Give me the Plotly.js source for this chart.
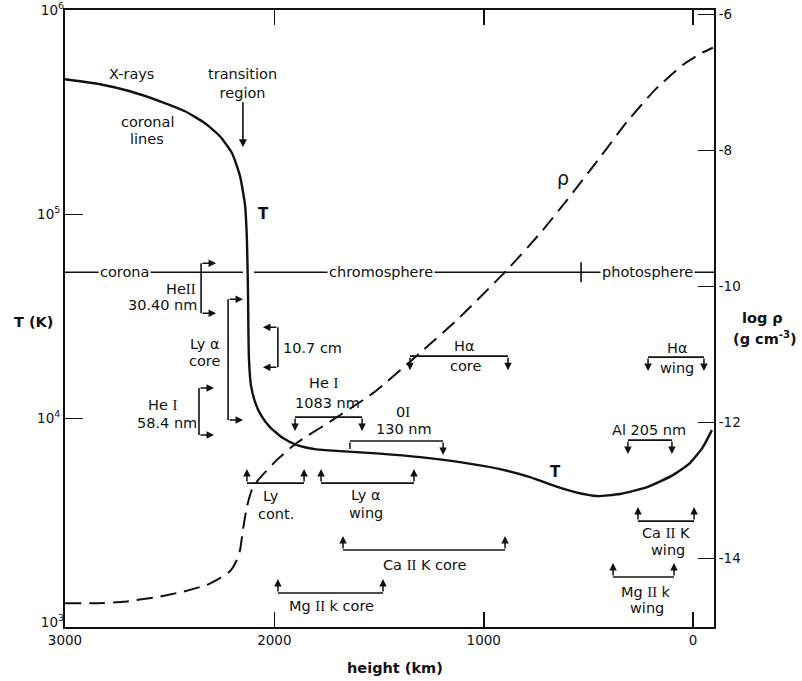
<!DOCTYPE html>
<html>
<head>
<meta charset="utf-8">
<script src="https://cdn.plot.ly/plotly-3.0.1.min.js"></script>
<style>html,body{margin:0;padding:0;background:#fff;}#chart{width:802px;height:681px;}</style>
</head>
<body>
<div id="chart"></div>
<script>
// ---- Temperature curve (height in km, T in K) ----
const heightT = [3000, 2833, 2690, 2546, 2427, 2331, 2260, 2202, 2164, 2140, 2131, 2126, 2124, 2121, 2112, 2092, 2064, 2021, 1959, 1892, 1806, 1686, 1495, 1304, 1113, 922, 779, 659, 564, 459, 349, 220, 96, 15, -47, -90];
const tempT   = [459000, 434000, 401000, 358200, 320000, 279500, 241300, 199300, 153800, 110800, 74670, 42470, 27050, 19280, 14540, 12000, 10370, 9057, 8000, 7390, 7063, 6907, 6714, 6455, 6101, 5638, 5151, 4654, 4349, 4158, 4253, 4601, 5268, 6034, 7226, 8752];

// ---- Density curve (height in km, log rho in g cm^-3) ----
const heightRho = [3000, 2847, 2723, 2561, 2436, 2322, 2260, 2212, 2183, 2164, 2150, 2131, 2107, 2078, 2040, 1987, 1892, 1734, 1529, 1304, 1113, 889, 731, 602, 444, 316, 182, 48, -33, -95];
const logRho    = [-14.66, -14.66, -14.64, -14.57, -14.49, -14.39, -14.29, -14.19, -14.05, -13.88, -13.58, -13.24, -12.99, -12.85, -12.72, -12.55, -12.30, -11.99, -11.57, -10.98, -10.45, -9.76, -9.22, -8.73, -8.10, -7.58, -7.11, -6.74, -6.58, -6.49];

// ---- Axis ticks ----
const xTickVals = [3000, 2000, 1000, 0];
const xTickText = ['3000', '2000', '1000', '0'];
const yTickVals = [1e4, 1e5];
const yTickText = ['10<sup>4</sup>', '10<sup>5</sup>'];
const yEndVals = [1e3, 1e6];
const yEndText = ['10<sup>3</sup>', '10<sup>6</sup>'];
const y2TickVals = [-14, -12, -10, -8, -6];
const y2TickText = ['-14', '-12', '-10', '-8', '-6'];

// ---- Horizontal formation-range brackets (height range, T level) ----
const hbName  = ['He I 1083 nm', 'O I 130 nm', 'Ha core', 'Ha wing', 'Al 205 nm', 'Ly cont.', 'Lya wing', 'Ca II K core', 'Mg II k core', 'Ca II K wing', 'Mg II k wing'];
const hbStart = [1901, 1639, 1352, 215, 311, 2131, 1777, 1672, 1983, 263, 382];
const hbEnd   = [1581, 1194, 884, -52, 101, 1858, 1333, 898, 1481, -5, 91];
const hbTemp  = [10140, 7735, 20170, 19950, 7820, 4813, 4813, 2261, 1392, 3135, 1667];
const hbDir   = ['down', 'down', 'down', 'down', 'down', 'up', 'up', 'up', 'up', 'up', 'up'];
const hbStartHead = [true, false, true, true, true, true, true, true, true, true, true];

// ---- Vertical brackets (height, T range) ----
const vbName   = ['He II 30.40 nm', 'Lya core', 'He I 58.4 nm', '10.7 cm'];
const vbHeight = [2350, 2221, 2360, 1983];
const vbTop    = [57600, 38370, 14060, 27980];
const vbBottom = [32770, 9800, 8275, 17810];
const vbDir    = ['right', 'right', 'right', 'left'];

// ---- Atmosphere regions ----
const regionTemp = 52030;
const regionLineX = [3000, 2150, null, 2097, -100];
const regionBoundary = 535;
const regionTickT = [58200, 46480];

// ---- Text labels ----
const R = s => '<span style="font-family:Liberation Serif">' + s + '</span>';
const labelText = ['X-rays', 'coronal', 'lines', 'He' + R('II'), '30.40 nm', 'Ly α', 'core', 'He ' + R('I'), '58.4 nm', '10.7 cm',
  'He ' + R('I'), '1083 nm', '0' + R('I'), '130 nm', 'Hα', 'core', 'Hα', 'wing', 'Al 205 nm',
  'Ly', 'cont.', 'Ly α', 'wing', 'Ca ' + R('II') + ' K core', 'Mg ' + R('II') + ' k core', 'Ca ' + R('II') + ' K', 'wing', 'Mg ' + R('II') + ' k', 'wing'];
const labelH = [2680, 2608, 2608, 2365, 2360, 2250, 2250, 2532, 2513, 1968,
  1763, 1744, 1386, 1381, 1094, 1085, 77, 77, 210,
  2016, 1992, 1562, 1562, 1280, 1729, 129, 120, 225, 220];
const labelT = [490000, 283000, 233000, 43000, 35900, 23100, 19100, 11600, 9470, 22100,
  14880, 11870, 10720, 8850, 22580, 18020, 22080, 17620, 8750,
  4158, 3394, 4205, 3432, 1909, 1202, 2739, 2261, 1408, 1175];
const labelAnchor = ['center', 'center', 'center', 'right', 'right', 'right', 'right', 'center', 'center', 'left',
  'center', 'center', 'center', 'center', 'center', 'center', 'center', 'center', 'center',
  'center', 'center', 'center', 'center', 'center', 'center', 'center', 'center', 'center', 'center'];

const curveLabelText = ['<b>T</b>', '<b>T</b>', 'ρ'];
const curveLabelH = [2054, 659, 621];
const curveLabelT = [100000, 5450, 150000];

const regionText = ['corona', 'chromosphere', 'photosphere'];
const regionH = [2718, 1491, 220];

const FONT = 'DejaVu Sans, Arial, sans-serif';
const lab = {family: FONT, size: 14.5, color: '#111'};
const INK = '#111';

// ---- traces ----
const traces = [];
traces.push({x: heightT, y: tempT, xaxis: 'x', yaxis: 'y', mode: 'lines', line: {color: INK, width: 2.4, shape: 'spline', smoothing: 0.5}, hoverinfo: 'skip', showlegend: false});
traces.push({x: heightRho, y: logRho, xaxis: 'x', yaxis: 'y2', mode: 'lines', line: {color: INK, width: 2, dash: '16px,8px', shape: 'spline', smoothing: 0.5}, hoverinfo: 'skip', showlegend: false});

// bracket bars
const bx = [], by = [];
for (let i = 0; i < hbStart.length; i++) { bx.push(hbStart[i], hbEnd[i], null); by.push(hbTemp[i], hbTemp[i], null); }
for (let i = 0; i < vbHeight.length; i++) { bx.push(vbHeight[i], vbHeight[i], null); by.push(vbTop[i], vbBottom[i], null); }
traces.push({x: bx, y: by, mode: 'lines', line: {color: INK, width: 1.6}, connectgaps: false, hoverinfo: 'skip', showlegend: false});

// region line
traces.push({x: regionLineX, y: regionLineX.map(v => v === null ? null : regionTemp), mode: 'lines', line: {color: INK, width: 1.4}, connectgaps: false, hoverinfo: 'skip', showlegend: false});
traces.push({x: [regionBoundary, regionBoundary], y: regionTickT, mode: 'lines', line: {color: INK, width: 1.6}, hoverinfo: 'skip', showlegend: false});
// carrier for the end-label axis (no visible marks)
traces.push({x: [], y: [], xaxis: 'x', yaxis: 'y3', mode: 'lines', hoverinfo: 'skip', showlegend: false});

// ---- annotations ----
const ann = [];
function arrow(h, T, dir, len, head) {
  const a = {x: h, y: Math.log10(T), xref: 'x', yref: 'y', text: '', showarrow: true, arrowhead: head, arrowsize: 1, arrowwidth: 1.5,
    arrowcolor: INK, ax: 0, ay: 0, xshift: 0, yshift: 0, standoff: 0, startstandoff: 0};
  if (dir === 'down') { a.ay = -len; a.yshift = -len; }
  if (dir === 'up') { a.ay = len; a.yshift = len; }
  if (dir === 'right') { a.ax = -len; a.xshift = len; }
  if (dir === 'left') { a.ax = len; a.xshift = -len; }
  return a;
}
for (let i = 0; i < hbStart.length; i++) {
  ann.push(arrow(hbStart[i], hbTemp[i], hbDir[i], hbStartHead[i] ? 14 : 8, hbStartHead[i] ? 2 : 0));
  ann.push(arrow(hbEnd[i], hbTemp[i], hbDir[i], 14, 2));
}
for (let i = 0; i < vbHeight.length; i++) {
  ann.push(arrow(vbHeight[i], vbTop[i], vbDir[i], 15, 2));
  ann.push(arrow(vbHeight[i], vbBottom[i], vbDir[i], 15, 2));
}
// transition region arrow
ann.push({x: 2150, y: Math.log10(213000), xref: 'x', yref: 'y', text: 'transition<br>region', showarrow: true, arrowhead: 2, arrowsize: 1, arrowwidth: 1.6,
  arrowcolor: INK, ax: 0, ay: -64, standoff: 0, font: lab});

for (let i = 0; i < labelText.length; i++) {
  ann.push({x: labelH[i], y: Math.log10(labelT[i]), xref: 'x', yref: 'y', text: labelText[i], showarrow: false,
    xanchor: labelAnchor[i], yanchor: 'middle', font: lab});
}
for (let i = 0; i < curveLabelText.length; i++) {
  ann.push({x: curveLabelH[i], y: Math.log10(curveLabelT[i]), xref: 'x', yref: 'y', text: curveLabelText[i], showarrow: false,
    xanchor: 'center', yanchor: 'middle', font: {family: FONT, size: i === 2 ? 19 : 15, color: INK}});
}
for (let i = 0; i < regionText.length; i++) {
  ann.push({x: regionH[i], y: Math.log10(regionTemp), xref: 'x', yref: 'y', text: regionText[i], showarrow: false,
    xanchor: 'center', yanchor: 'middle', bgcolor: '#fff', borderpad: 1, font: lab});
}
// axis titles
const tfont = {family: FONT, size: 14.5, color: INK};
ann.push({x: -0.048, y: 0.494, xref: 'paper', yref: 'paper', text: '<b>T (K)</b>', showarrow: false, xanchor: 'center', yanchor: 'middle', font: tfont});
ann.push({x: 1.074, y: 0.501, xref: 'paper', yref: 'paper', text: '<b>log ρ</b>', showarrow: false, xanchor: 'center', yanchor: 'middle', font: tfont});
ann.push({x: 1.079, y: 0.468, xref: 'paper', yref: 'paper', text: '<b>(g cm<sup>-3</sup>)</b>', showarrow: false, xanchor: 'center', yanchor: 'middle', font: tfont});
ann.push({x: 0.5085, y: -0.0665, xref: 'paper', yref: 'paper', text: '<b>height (km)</b>', showarrow: false, xanchor: 'center', yanchor: 'middle', font: tfont});

const tickFont = {family: FONT, size: 13.5, color: INK};
const yRange = [2.977, 6.0015];
const layout = {
  width: 802, height: 681,
  margin: {l: 65, r: 88, t: 10, b: 54},
  paper_bgcolor: '#fff', plot_bgcolor: '#fff',
  showlegend: false,
  xaxis: {range: [3000, -100], tickvals: xTickVals, ticktext: xTickText, ticks: 'inside', ticklen: 15, tickwidth: 1.6, tickcolor: INK,
    showline: true, linewidth: 2, linecolor: INK, mirror: 'ticks', showgrid: false, zeroline: false, tickfont: tickFont},
  yaxis: {type: 'log', range: yRange, tickvals: yTickVals, ticktext: yTickText, ticks: 'inside', ticklen: 18, tickwidth: 1.6, tickcolor: INK,
    showline: true, linewidth: 2, linecolor: INK, showgrid: false, zeroline: false, tickfont: tickFont},
  yaxis3: {type: 'log', overlaying: 'y', side: 'left', range: yRange, tickvals: yEndVals, ticktext: yEndText, ticks: '',
    showline: false, showgrid: false, zeroline: false, tickfont: tickFont},
  yaxis2: {overlaying: 'y', side: 'right', range: [-15.01, -5.935], tickvals: y2TickVals, ticktext: y2TickText, ticks: 'inside', ticklen: 16, tickwidth: 1.6, tickcolor: INK,
    showline: true, linewidth: 2, linecolor: INK, showgrid: false, zeroline: false, tickfont: tickFont},
  annotations: ann
};
Plotly.newPlot('chart', traces, layout, {staticPlot: true, displayModeBar: false});
</script>
</body>
</html>
